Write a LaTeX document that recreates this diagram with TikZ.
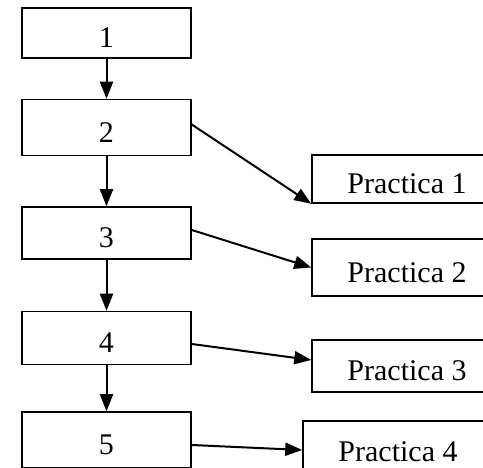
\documentclass[tikz,border=0pt]{standalone}
\usepackage{fontspec}
\setmainfont{Liberation Serif}
\usetikzlibrary{arrows.meta,positioning}
\tikzset{
  stepbox/.style={draw, line width=1.5pt, inner sep=0pt, minimum width=169pt,
    minimum height=53pt, text height=30pt, text depth=0pt,
    font=\fontsize{30}{34}\selectfont},
  practbox/.style={stepbox, minimum width=190pt},
  arr/.style={-{Triangle[length=17pt,width=13pt]}, line width=2pt}
}
\begin{document}
\begin{tikzpicture}
    \clip (0,0) rectangle (483pt,-468pt);
    % main column
    \node[stepbox, minimum height=50pt] (b1) at (106.5pt,-33pt) {1};
    \node[stepbox, minimum height=56pt, below=40pt of b1] (b2) {2};
    \node[stepbox, minimum height=52pt, below=50pt of b2] (b3) {3};
    \node[stepbox, minimum height=53pt, below=51pt of b3] (b4) {4};
    \node[stepbox, minimum height=56pt, below=46pt of b4] (b5) {5};
    % practicas
    \node[practbox, minimum height=48pt] (p1) at (407pt,-179pt) {Practica 1};
    \node[practbox, minimum height=57pt] (p2) at (407pt,-267.5pt) {Practica 2};
    \node[practbox, minimum height=52pt] (p3) at (407pt,-366pt) {Practica 3};
    \node[practbox, minimum height=52pt] (p4) at (398pt,-447pt) {Practica 4};
    \draw[arr] (b1) -- (b2);
    \draw[arr] (b2) -- (b3);
    \draw[arr] (b3) -- (b4);
    \draw[arr] (b4) -- (b5);
    \draw[arr] ([yshift=3pt]b2.east) -- (p1.south west);
    \draw[arr] ([yshift=3pt]b3.east) -- (p2.west);
    \draw[arr] ([yshift=-6pt]b4.east) -- ([yshift=6pt]p3.west);
    \draw[arr] ([yshift=-5pt]b5.east) -- ([yshift=-3pt]p4.west);
\end{tikzpicture}
\end{document}
